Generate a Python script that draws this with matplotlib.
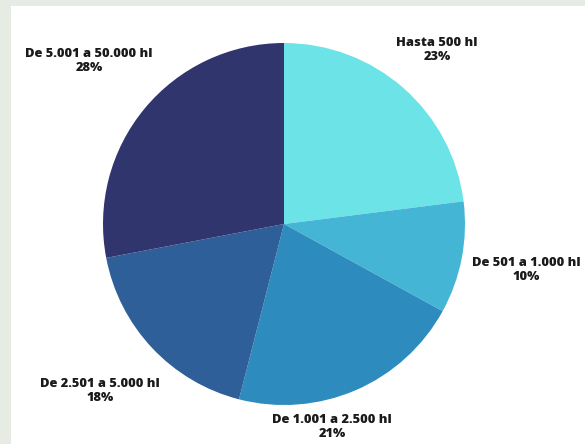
import matplotlib
matplotlib.use("Agg")
import matplotlib.pyplot as plt
from matplotlib.patches import Rectangle

labels = ["Hasta 500 hl", "De 501 a 1.000 hl", "De 1.001 a 2.500 hl",
          "De 2.501 a 5.000 hl", "De 5.001 a 50.000 hl"]
shares = [23, 10, 21, 18, 28]
colors = ["#6ce3e6", "#45b5d6", "#2e8bbd", "#2e5f98", "#31356e"]
# label anchor positions in pixel coordinates (x, y from top)
label_pos = [(437, 50), (526, 270), (332, 427), (100, 391), (89, 61)]

W, H = 585, 444
fig = plt.figure(figsize=(W / 100, H / 100), dpi=100, facecolor="#e6ebe3")
ax = fig.add_axes([0, 0, 1, 1])
ax.set_xlim(0, W)
ax.set_ylim(0, H)
ax.set_aspect("equal")
ax.axis("off")

# white inner panel
ax.add_patch(Rectangle((11, 0), W - 11, H - 6, facecolor="white", edgecolor="none", zorder=0))

cx, cy, r = 284, H - 224, 181
ax.pie(shares, colors=colors, startangle=90, counterclock=False,
       center=(cx, cy), radius=r, frame=True,
       wedgeprops=dict(linewidth=0))
ax.set_xlim(0, W)
ax.set_ylim(0, H)
ax.axis("off")

for lab, val, (x, y) in zip(labels, shares, label_pos):
    ax.text(x, H - y, f"{lab}\n{val}%", ha="center", va="center",
            fontsize=9.3, fontweight="heavy", family="Open Sans",
            color="#1a1a1a", linespacing=1.2)

fig.savefig("out.png", dpi=100, facecolor=fig.get_facecolor())
